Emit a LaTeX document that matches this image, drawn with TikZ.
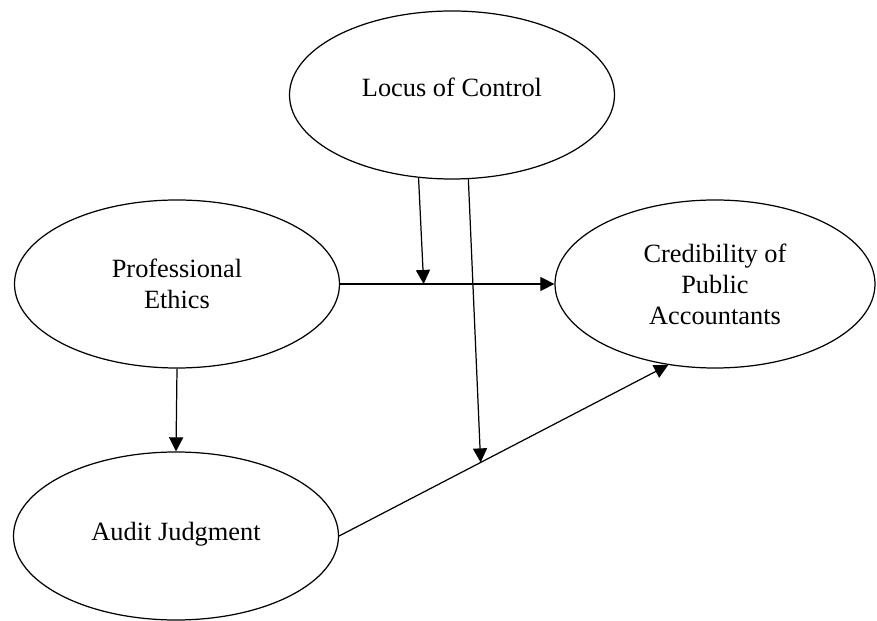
\documentclass[tikz,border=0pt]{standalone}
\usepackage{fontspec}
\setmainfont{Liberation Serif}
\usepackage{tikz}
\usetikzlibrary{shapes.geometric, arrows.meta, calc}

\begin{document}
\begin{tikzpicture}[
  font=\fontsize{15}{17.6}\selectfont,
  construct/.style={ellipse, draw, line width=0.7pt, minimum width=6.5cm, minimum height=3.36cm, inner sep=0pt, align=center},
  arrow/.style={-{Triangle[length=8pt, width=8pt]}, line width=0.7pt},
]
\useasboundingbox (0,0) rectangle (17.54,-12.42);

% ---- Constructs ----
\node[construct] (loc) at (9.04, -1.90) {\raisebox{0.32cm}{Locus of Control}};
\node[construct] (pe) at (3.54, -5.68) {Professional\\Ethics};
\node[construct, minimum width=6.4cm] (cred) at (14.30, -5.68) {Credibility of\\Public\\Accountants};
\node[construct] (aj) at (3.52, -10.72) {\raisebox{0.2cm}{Audit Judgment}};

% ---- Points where the moderator arrows land ----
\coordinate (m1) at ($(pe.east)!0.39!(cred.west)$);
\coordinate (m2) at ($(aj.east)!0.43!(cred.240)$);

% ---- Arrows ----
\draw[arrow] (pe.east) -- (cred.west);
\draw[arrow] (pe.south) -- (aj.north);
\draw[arrow] (aj.east) -- (cred.240);
\draw[arrow] (loc.248) -- (m1);
\draw[arrow] (loc.281) -- (m2);

\end{tikzpicture}
\end{document}
